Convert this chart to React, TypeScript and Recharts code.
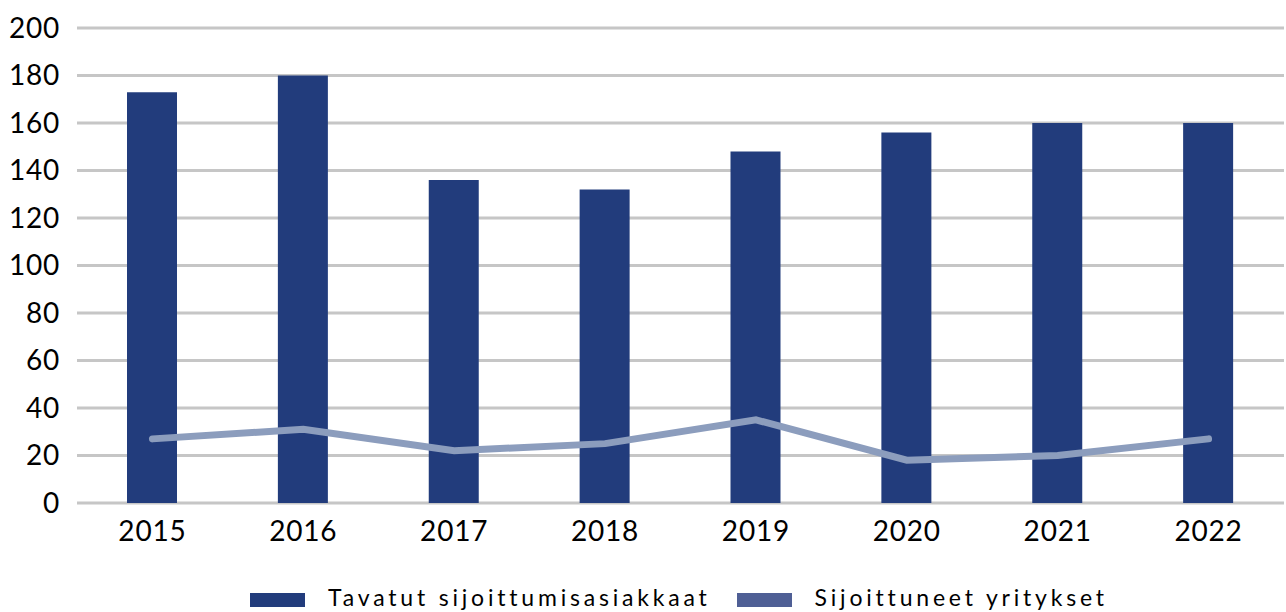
import React from 'react';
import { ComposedChart, Bar, Line, XAxis, YAxis, CartesianGrid, Legend } from 'recharts';

const years = ['2015', '2016', '2017', '2018', '2019', '2020', '2021', '2022'];
const metClients = [173, 180, 136, 132, 148, 156, 160, 160];
const settledCompanies = [27, 31, 22, 25, 35, 18, 20, 27];
const yTicks = [0, 20, 40, 60, 80, 100, 120, 140, 160, 180, 200];

const data = years.map((year, i) => ({
    year,
    met: metClients[i],
    settled: settledCompanies[i],
}));

const fontFamily = 'Lato, "Open Sans", sans-serif';
const barColor = '#223c7c';
const lineColor = '#8c9dbd';
const legendLineColor = '#4f5f95';

const legendItems = [
    { label: 'Tavatut sijoittumisasiakkaat', color: barColor },
    { label: 'Sijoittuneet yritykset', color: legendLineColor },
];

const ChartLegend = () => (
    <div style={{ display: 'flex', justifyContent: 'flex-start', alignItems: 'center', fontFamily, fontSize: 23, letterSpacing: 3.8, color: '#000', paddingTop: 22, paddingLeft: 250, lineHeight: '24px' }}>
        {legendItems.map((item, i) => (
            <div key={item.label} style={{ display: 'flex', alignItems: 'center', marginLeft: i === 0 ? 0 : 26 }}>
                <span style={{ display: 'inline-block', width: 55, height: 14, background: item.color, marginRight: 23, marginTop: 6 }} />
                <span style={{ whiteSpace: 'nowrap' }}>{item.label}</span>
            </div>
        ))}
    </div>
);

const tickStyle = { fontSize: 28, fill: '#000', fontFamily, letterSpacing: 0.8 };

const App: React.FC = () => {
    return (
        <div style={{ position: 'absolute', left: 0, top: 0, width: 1286, height: 612, background: '#fff' }}>
            <ComposedChart
                width={1286}
                height={612}
                data={data}
                barCategoryGap={0}
                margin={{ top: 28, right: 2, left: 0, bottom: 0 }}
            >
                <CartesianGrid vertical={false} stroke="#c6c6c6" strokeWidth={3} />
                <XAxis
                    dataKey="year"
                    axisLine={false}
                    tickLine={false}
                    height={60}
                    tickMargin={12}
                    tick={tickStyle}
                />
                <YAxis
                    domain={[0, 200]}
                    ticks={yTicks}
                    axisLine={false}
                    tickLine={false}
                    width={77}
                    tickMargin={11}
                    tick={tickStyle}
                />
                <Legend verticalAlign="bottom" height={49} content={() => <ChartLegend />} />
                <Bar dataKey="met" fill={barColor} barSize={50} isAnimationActive={false} />
                <Line
                    dataKey="settled"
                    type="linear"
                    stroke={lineColor}
                    strokeWidth={7}
                    strokeLinecap="round"
                    dot={false}
                    activeDot={false}
                    isAnimationActive={false}
                />
            </ComposedChart>
        </div>
    );
};

export default App;
